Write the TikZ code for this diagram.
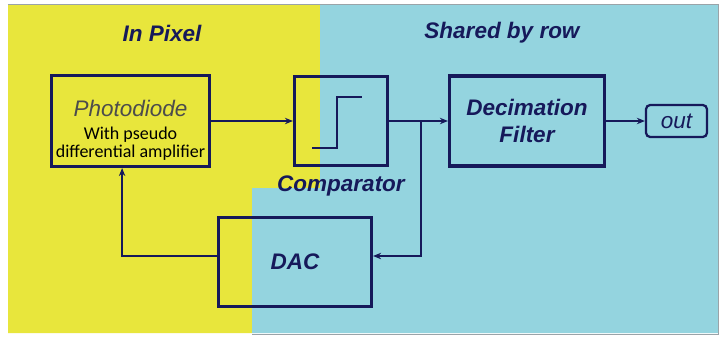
\documentclass[tikz,border=0pt]{standalone}
\usepackage{fontspec}
\setmainfont{Liberation Sans}
\newfontfamily\calibrifont{Carlito}
\usetikzlibrary{positioning,arrows.meta,calc}
\definecolor{pixelYellow}{HTML}{E8E63C}
\definecolor{rowBlue}{HTML}{94D4DF}
\definecolor{ink}{HTML}{16195A}
\definecolor{frame}{HTML}{9AA3A8}
\newcommand\pdsub{\calibrifont\fontsize{12.8}{13}\selectfont\color{black}}
\tikzset{
  block/.style={rectangle, draw=ink, line width=2.2pt, align=center,
                font=\fontsize{16}{19}\selectfont\bfseries\itshape, text=ink},
  outbox/.style={rectangle, rounded corners=3pt, draw=ink, line width=1.6pt,
                 minimum width=1.525cm, minimum height=0.8cm,
                 font=\fontsize{16}{19}\selectfont\itshape, text=ink},
  title/.style={font=\fontsize{16}{19}\selectfont\bfseries\itshape, text=ink},
  flow/.style={-{Stealth[length=2mm,width=1.6mm]}, line width=1.1pt, draw=ink},
  wire/.style={line width=1.1pt, draw=ink}
}
\begin{document}
\begin{tikzpicture}[x=0.025cm,y=-0.025cm]
\useasboundingbox (0,0) rectangle (719,337);
\fill[white] (0,0) rectangle (719,337);
\fill[pixelYellow] (8,5) -- (320,5) -- (320,188) -- (252,188) -- (252,333) -- (8,333) -- cycle;
\fill[rowBlue] (320,5) -- (718,5) -- (718,333) -- (252,333) -- (252,188) -- (320,188) -- cycle;
\draw[frame,thin] (8,4) -- (718,4) -- (718,334) -- (252,334);
\node[title] (inpixel) at (162,33) {In Pixel};
\node[title] (shared) at (502,33) {Shared by row};
\node[block, minimum width=3.85cm, minimum height=2.275cm, font=\fontsize{16}{19}\selectfont]
  (photo) at (130.5,121) {\rule{0pt}{25pt}{\itshape\color{black!70}Photodiode}\\[-3pt]\pdsub With pseudo\\[-6pt]\pdsub differential amplifier};
\node[block, minimum width=2.325cm, minimum height=2.225cm] (comp) at (341,121) {};
\node[title, below=3pt of comp] (complabel) {Comparator};
\node[block, minimum width=3.875cm, minimum height=2.25cm] (decim) at (527,121) {Decimation\\Filter};
\node[outbox] (out) at (676.5,121) {out};
\node[block, minimum width=3.825cm, minimum height=2.225cm] (dac) at (295,262) {DAC};
\coordinate (branch) at (421,121);
\draw[wire] ($(comp.center)+(-29,27)$) -- ++(25,0) -- ++(0,-51) -- ++(25,0);
\draw[flow] (photo) -- (comp);
\draw[flow] (comp) -- (decim);
\draw[flow] (decim) -- (out);
\draw[flow] (branch) |- ([yshift=0.15cm]dac.east);
\draw[flow] ([yshift=0.15cm]dac.west) -| ([xshift=-0.21cm]photo.south);
\end{tikzpicture}
\end{document}
